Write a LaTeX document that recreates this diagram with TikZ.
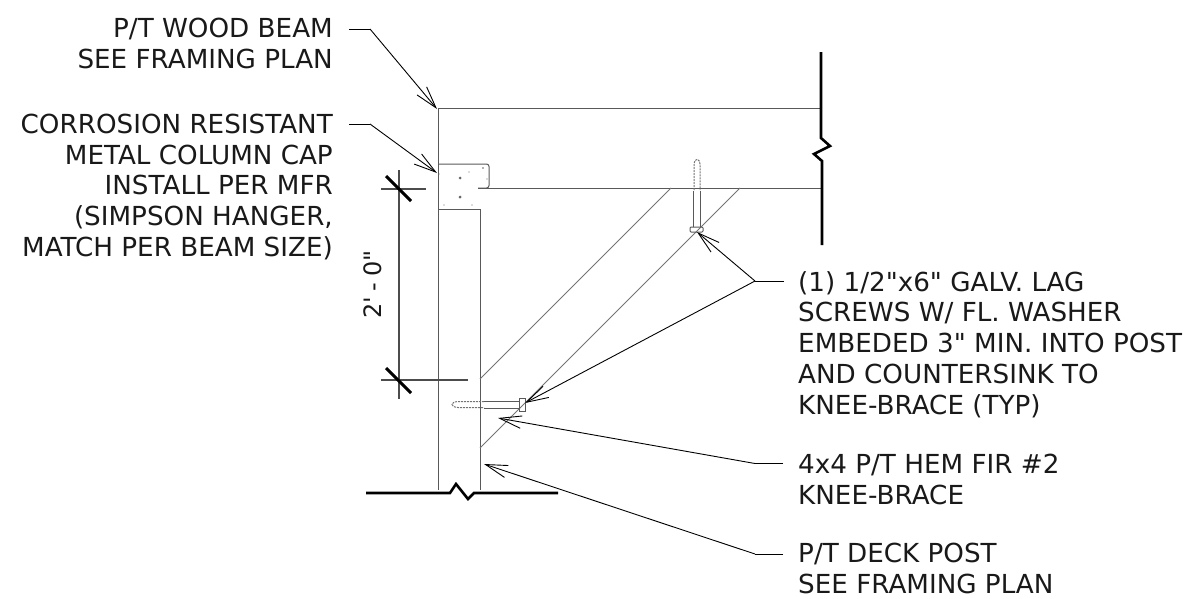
\documentclass[tikz,border=0pt]{standalone}
\usepackage{fontspec}
\newfontfamily\lblfont{DejaVu Sans}
\usetikzlibrary{arrows.meta}
\tikzset{
  x=1pt,y=-1pt,
  lbl/.style={inner sep=0pt,font=\lblfont\fontsize{26.2}{30.8}\selectfont,text=black!90},
  rlbl/.style={lbl,align=right,anchor=north east},
  llbl/.style={lbl,align=left,anchor=north west},
  dimlbl/.style={inner sep=0pt,font=\lblfont\fontsize{24}{30}\selectfont,text=black!90,rotate=90},
  part/.style={draw=black!65,line width=1pt},
  partd/.style={draw=black!70,line width=1.1pt},
  thin part/.style={draw=black!55,line width=.8pt},
  thread/.style={draw=black!55,line width=1pt,dash pattern=on 2pt off 1pt},
  heavy/.style={draw=black,line width=2.6pt,line join=miter},
  tick/.style={draw=black,line width=3pt},
  leader/.style={draw=black,line width=.9pt,-{Straight Barb[length=22pt,width=12.5pt,line width=.9pt]}},
  hook/.style={draw=black,line width=.9pt},
  dot/.style={fill=black!60,draw=none}
}
\begin{document}
\begin{tikzpicture}
\useasboundingbox (0,0) rectangle (1185,598);
% labels
\node[rlbl] (wood) at (333,18) {P/T WOOD BEAM\\SEE FRAMING PLAN};
\node[rlbl] (cap) at (333,113.7) {CORROSION RESISTANT\\METAL COLUMN CAP\\INSTALL PER MFR\\(SIMPSON HANGER,\\MATCH PER BEAM SIZE)};
\node[llbl] (lag) at (798,271) {(1) 1/2"x6" GALV. LAG\\SCREWS W/ FL. WASHER\\EMBEDED 3" MIN. INTO POST\\AND COUNTERSINK TO\\KNEE-BRACE (TYP)};
\node[llbl] (brace) at (798,453.7) {4x4 P/T HEM FIR \#2\\KNEE-BRACE};
\node[llbl] (post) at (798,543) {P/T DECK POST\\SEE FRAMING PLAN};
\node[dimlbl] (dim) at (373,284.5) {2'\hspace{5.5pt}-\hspace{5.5pt}0"};
% beam and post
\draw[part] (438,490) -- (438,108) -- (821,108);
\draw[part] (480,490) -- (480,209);
\draw[part] (438,209) -- (480,209);
\draw[part,rounded corners=2.5pt] (438,164) -- (489,164) -- (489,188) -- (478,188);
\draw[part] (478,188) -- (821,188);
\foreach \px/\py/\pr in {460/178/1.5,460/197/1.5,469/172/.7,483/168/.8,487/179/.7,439/174/.7,444/205/.7,472/205/.7}
  \fill[dot] (\px,\py) circle[radius=\pr];
% knee brace
\draw[thin part] (480,379) -- (671,188);
\draw[thin part] (480,448) -- (740,188);
% lag screws
\draw[part] (693,191) -- (693,227) (700,191) -- (700,227);
\draw[part,rounded corners=1pt] (690,227) rectangle (703,232);
\draw[thread] (694,190) -- (694,164) .. controls (694,158) and (700,158) .. (700,164) -- (700,190);
\draw[part] (484,401) -- (519,401) (484,408) -- (519,408);
\draw[part] (519.5,398) rectangle (525,411);
\draw[thread] (484,401.5) -- (458,401.5) .. controls (450,402) and (450,407) .. (458,407.5) -- (484,407.5);
% break lines
\draw[heavy] (821,52) -- (821,138) -- (830,146) -- (814,154) -- (822,161) -- (822,245);
\draw[heavy] (366,493) -- (450,493) -- (456,484) -- (468,499) -- (474,493) -- (558,493);
% dimension
\draw[partd] (399,170) -- (399,399);
\draw[partd] (381,189) -- (426,189);
\draw[partd] (381,380) -- (468,380);
\draw[tick] (386,176) -- (411,201);
\draw[tick] (386,368) -- (411,393);
% leaders
\coordinate (woodh) at (349,29);
\coordinate (woodk) at (370,29);
\coordinate (woodt) at (437,109);
\coordinate (caph) at (349,124);
\coordinate (capk) at (370,124);
\coordinate (capt) at (437,173);
\coordinate (lagh) at (784,281);
\coordinate (lagk) at (755,281);
\coordinate (lagt) at (697,232);
\coordinate (lagu) at (525,403);
\coordinate (brh) at (783,463.5);
\coordinate (brk) at (755,463.5);
\coordinate (brt) at (498,418);
\coordinate (poh) at (783,554);
\coordinate (pok) at (755,554);
\coordinate (pot) at (484,464);
\draw[hook] (woodh) -- (woodk);
\draw[leader] (woodk) -- (woodt);
\draw[hook] (caph) -- (capk);
\draw[leader] (capk) -- (capt);
\draw[hook] (lagh) -- (lagk);
\draw[leader] (lagk) -- (lagt);
\draw[leader] (lagk) -- (lagu);
\draw[hook] (brh) -- (brk);
\draw[leader] (brk) -- (brt);
\draw[hook] (poh) -- (pok);
\draw[leader] (pok) -- (pot);
\end{tikzpicture}
\end{document}
